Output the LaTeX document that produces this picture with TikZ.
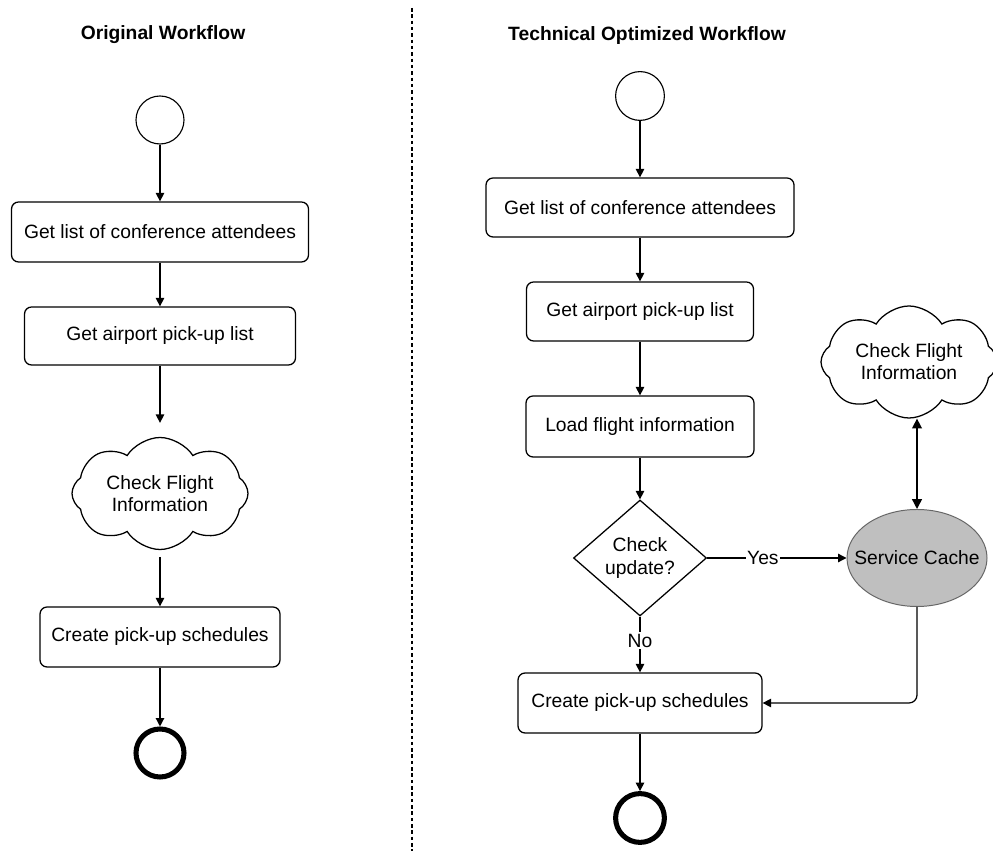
\documentclass[tikz,border=0pt]{standalone}
\usepackage{fontspec}
\setmainfont{Liberation Sans}
\usetikzlibrary{shapes.geometric,shapes.symbols,arrows.meta}

\begin{document}
\begin{tikzpicture}[scale=1,
  every node/.style={font=\fontsize{13.7}{15.8}\selectfont,align=center},
  ttl/.style={font=\fontsize{13.7}{15.8}\selectfont\bfseries},
  actbox/.style={draw,line width=0.9pt,rounded corners=5pt,minimum height=1.5cm,inner sep=0pt},
  startc/.style={draw,circle,line width=0.8pt,minimum size=1.2cm,inner sep=0pt},
  stopc/.style={draw,circle,line width=3.6pt,minimum size=1.2cm,inner sep=0pt},
  cloudy/.style={draw,cloud,cloud puffs=8,cloud puff arc=115,cloud ignores aspect,
    minimum width=4.4cm,minimum height=2.8cm,line width=0.9pt,inner sep=0pt},
  arr/.style={-{Triangle[length=6pt,width=6pt]},line width=0.9pt}]
\useasboundingbox (0,0) rectangle (24.825,21.275);

% divider
\coordinate (divtop) at (10.3,21.075);
\coordinate (divbot) at (10.3,0);
\draw [line width=0.8pt,dash pattern=on 2.5pt off 2pt] (divtop)--(divbot);

% original workflow
\node [ttl] (ttlL) at (4.075,20.4) {Original Workflow};
\node [startc] (startL) at (4,18.275) {};
\node [actbox,minimum width=7.425cm] (listL) at (4,15.475) {Get list of conference attendees};
\node [actbox,minimum width=6.775cm,minimum height=1.45cm] (pickL) at (4,12.875) {Get airport pick-up list};
\node [cloudy,label={[name=cloudLt]center:Check Flight\\Information}] (cloudL) at (4,8.9375) {};
\node [actbox,minimum width=6cm] (schedL) at (4,5.35) {Create pick-up schedules};
\node [stopc] (stopL) at (4,2.45) {};

\draw [arr] (startL)--(listL);
\draw [arr] (listL)--(pickL);
\draw [arr,shorten >=0.35cm] (pickL)--(cloudL);
\draw [arr,shorten <=0.17cm] (cloudL)--(schedL);
\draw [arr] (schedL)--(stopL);

% technical optimized workflow
\node [ttl] (ttlR) at (16.175,20.375) {Technical Optimized Workflow};
\node [startc,minimum size=1.22cm] (startR) at (16,18.875) {};
\node [actbox,minimum width=7.7cm,minimum height=1.475cm] (listR) at (16,16.0875) {Get list of conference attendees};
\node [actbox,minimum width=5.675cm,minimum height=1.475cm] (pickR) at (16,13.4875) {Get airport pick-up list};
\node [actbox,minimum width=5.7cm,minimum height=1.525cm] (loadR) at (16,10.6125) {Load flight information};
\node [draw,diamond,line width=0.9pt,minimum width=3.325cm,minimum height=2.9cm,inner sep=0pt,
  label={[name=checkRt]center:Check\\update?}] (checkR) at (16,7.325) {};
\node [draw=black!60,ellipse,fill=gray!50,line width=0.7pt,minimum width=3.5cm,minimum height=2.425cm,
  inner sep=0pt,label={[name=cachet]center:Service Cache}] (cache) at (22.925,7.325) {};
\node [cloudy,label={[name=cloudRt]center:Check Flight\\Information}] (cloudR) at (22.725,12.225) {};
\node [actbox,minimum width=6.1cm] (schedR) at (16,3.7) {Create pick-up schedules};
\node [stopc,minimum size=1.22cm] (stopR) at (16,0.825) {};

\draw [arr] (startR)--(listR);
\draw [arr] (listR)--(pickR);
\draw [arr] (pickR)--(loadR);
\draw [arr] (loadR)--(checkR);
\draw [arr] (checkR)--node[pos=0.4,fill=white,inner sep=1pt] (yes) {Yes} (cache);
\draw [arr] (checkR)--node[pos=0.43,fill=white,inner sep=1pt] (no) {No} (schedR);
\draw [{Triangle[length=7pt,width=7pt]}-{Triangle[length=7pt,width=7pt]},line width=1pt] (cache.north)--(cache.north |- cloudR.south);
\draw [arr,rounded corners=0.2cm] (cache.south) |- (schedR.east);
\draw [arr] (schedR)--(stopR);
\end{tikzpicture}
\end{document}
